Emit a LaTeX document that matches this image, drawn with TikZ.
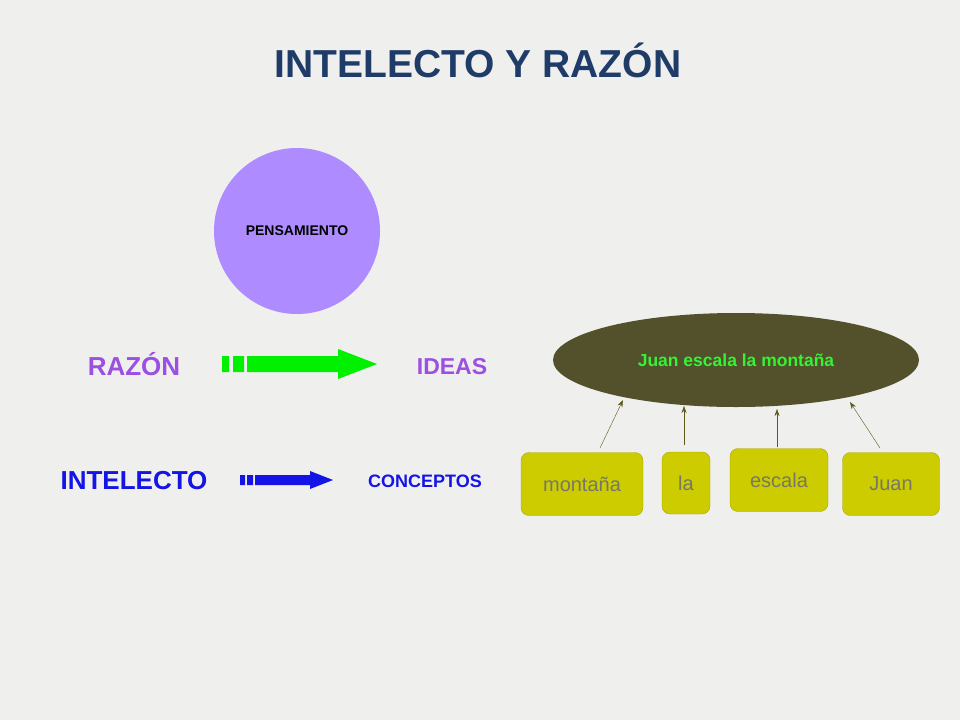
\documentclass[tikz,border=0pt]{standalone}
\usepackage{fontspec}
\setmainfont{Liberation Sans}
\usetikzlibrary{shapes.geometric,arrows.meta}
\definecolor{bgcol}{HTML}{EFEFEE}
\definecolor{titlecol}{HTML}{1F3C68}
\definecolor{razcol}{HTML}{9C4FE3}
\definecolor{intcol}{HTML}{1414E6}
\definecolor{circol}{HTML}{AE8CFF}
\definecolor{ellcol}{HTML}{52512B}
\definecolor{boxcol}{HTML}{CCCC00}
\definecolor{boxline}{HTML}{A8A800}
\definecolor{wordcol}{HTML}{777766}
\definecolor{arrcol}{HTML}{5A5A1A}
\definecolor{greenarr}{HTML}{00F000}
\begin{document}
\begin{tikzpicture}[x=1pt,y=-1pt,
  word/.style = {draw=boxline, fill=boxcol, rounded corners=8pt, text=wordcol, font=\fontsize{20}{24}\selectfont},
  link/.style = {draw=arrcol, -{Stealth[length=7pt,width=5pt]}}]
\fill[bgcol] (0,0) rectangle (960,720);
\useasboundingbox (0,0) rectangle (960,720);
\node[text=titlecol, font=\bfseries\fontsize{39}{44}\selectfont] (title) at (478,60) {INTELECTO Y RAZÓN};
\node[circle, fill=circol, minimum size=166pt, inner sep=0pt, font=\bfseries\fontsize{14}{16}\selectfont] (pens) at (297,231) {PENSAMIENTO};
\node[text=razcol, font=\bfseries\fontsize{26}{30}\selectfont] (razon) at (134,364) {RAZÓN};
\node[text=razcol, font=\bfseries\fontsize{23}{27}\selectfont] (ideas) at (452,367) {IDEAS};
\node[text=intcol, font=\bfseries\fontsize{26}{30}\selectfont] (intel) at (134,481) {INTELECTO};
\node[text=intcol, font=\bfseries\fontsize{18}{21}\selectfont] (conc) at (425,481) {CONCEPTOS};
% striped arrows
\fill[greenarr] (222,356) rectangle (229,372) (233,356) rectangle (244,372)
  (247,356) -- (338,356) -- (338,349) -- (377,364) -- (338,379) -- (338,372) -- (247,372) -- cycle;
\fill[intcol] (240,475) rectangle (245,485) (247,475) rectangle (253,485)
  (255,475) -- (310,475) -- (310,471) -- (333,480) -- (310,489) -- (310,485) -- (255,485) -- cycle;
% sentence
\node[ellipse, fill=ellcol, minimum width=366pt, minimum height=94pt, text=greenarr!80!white, font=\bfseries\fontsize{17.5}{20}\selectfont] (frase) at (736,360) {Juan escala la montaña};
\node[word, minimum width=122pt, minimum height=63pt] (w1) at (582,484) {montaña};
\node[word, minimum width=48pt, minimum height=62pt] (w2) at (686,483) {la};
\node[word, minimum width=98pt, minimum height=63pt] (w3) at (779,480) {escala};
\node[word, minimum width=97pt, minimum height=63pt] (w4) at (891,484) {Juan};
\draw[link] (600,448) -- (623,400);
\draw[link] (684,445) -- (684,406);
\draw[link] (777,447) -- (777,409);
\draw[link] (880,448) -- (850,402);
\end{tikzpicture}
\end{document}
